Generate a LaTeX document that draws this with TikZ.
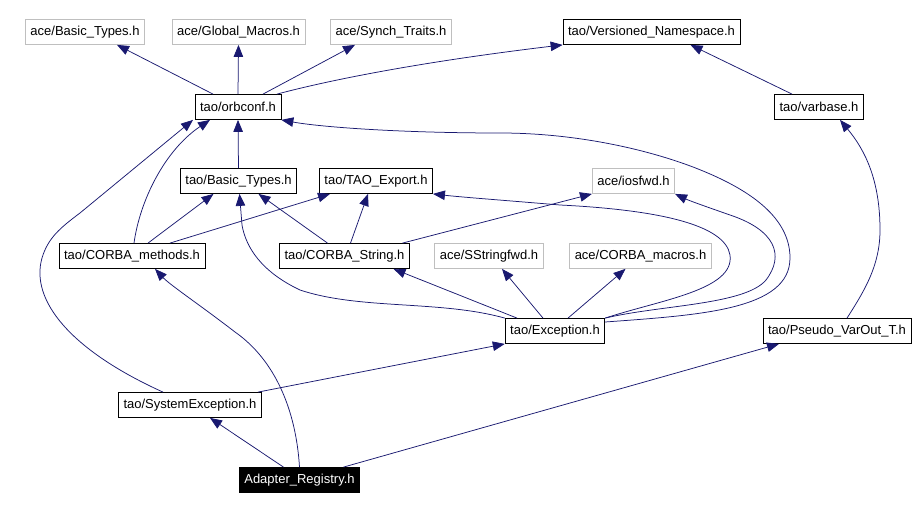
\documentclass[tikz,border=0pt]{standalone}
\usepackage{fontspec}
\setmainfont{Liberation Sans}
\usetikzlibrary{arrows.meta,calc}
\definecolor{depblue}{RGB}{25,25,112}
\definecolor{extgray}{RGB}{191,191,191}
\tikzset{
    hfile/.style={draw=black, line width=0.8pt, rectangle, minimum height=25pt, inner xsep=5pt, inner ysep=2pt, font=\fontsize{13}{15}\selectfont},
    extfile/.style={hfile, draw=extgray},
    mainfile/.style={hfile, fill=black, text=white},
    dep/.style={draw=depblue, line width=0.75pt, -{Triangle[length=12pt,width=9.5pt]}},
}
\begin{document}
\begin{tikzpicture}[x=1pt, y=-1pt]
        \useasboundingbox (0,0) rectangle (923,510);
        \node[extfile] (aceBasic) at (85,32) {ace/Basic\_Types.h};
        \node[extfile] (aceGlobal) at (238.5,32) {ace/Global\_Macros.h};
        \node[extfile] (aceSynch) at (391,32) {ace/Synch\_Traits.h};
        \node[hfile] (taoVersioned) at (651.5,32) {tao/Versioned\_Namespace.h};
        \node[hfile] (orbconf) at (238,107) {tao/orbconf.h};
        \node[hfile] (varbase) at (819,107) {tao/varbase.h};
        \node[hfile] (taoBasic) at (238.5,181) {tao/Basic\_Types.h};
        \node[hfile] (taoExport) at (376,181) {tao/TAO\_Export.h};
        \node[extfile] (iosfwd) at (633.5,181) {ace/iosfwd.h};
        \node[hfile] (corbaMethods) at (132,256) {tao/CORBA\_methods.h};
        \node[hfile] (corbaString) at (344.5,256) {tao/CORBA\_String.h};
        \node[extfile] (sstringfwd) at (489,256) {ace/SStringfwd.h};
        \node[extfile] (corbaMacros) at (640.5,256) {ace/CORBA\_macros.h};
        \node[hfile] (exception) at (555,331) {tao/Exception.h};
        \node[hfile] (pseudoVarOut) at (837,331) {tao/Pseudo\_VarOut\_T.h};
        \node[hfile] (sysException) at (190,405) {tao/SystemException.h};
        \node[mainfile] (adapter) at (299.5,480) {Adapter\_Registry.h};

        \draw[dep] ($(orbconf.north)+(-25,0)$) -- ($(aceBasic.south)+(32,0)$);
        \draw[dep] (orbconf.north) -- (aceGlobal.south);
        \draw[dep] ($(orbconf.north)+(25,0)$) -- ($(aceSynch.south)+(-36,0)$);
        \draw[dep] ($(orbconf.north)+(39,0)$) .. controls (330,80) and (420,62) .. (taoVersioned.south west);
        \draw[dep] ($(varbase.north)+(-27,0)$) -- ($(taoVersioned.south)+(39,0)$);
        \draw[dep] (taoBasic.north) -- (orbconf.south);
        \draw[dep] ($(corbaMethods.north)+(2,0)$) .. controls (140,200) and (165,150) .. ($(orbconf.south)+(-28,0)$);
        \draw[dep] ($(sysException.north)+(-27,0)$) .. controls (70,350) and (30,300) .. (42,258)
            .. controls (48,238) and (60,228) .. (80,213) -- ($(orbconf.south)+(-45,0)$);
        \draw[dep] ($(exception.east)+(0,-9)$) .. controls (700,315) and (790,310) .. (790,258)
            .. controls (790,215) and (745,187) .. (693,167) .. controls (640,147) and (570,133) .. (500,133)
            .. controls (400,133) and (320,127) .. (orbconf.south east);
        \draw[dep] ($(corbaMethods.north)+(16,0)$) -- ($(taoBasic.south)+(-25,0)$);
        \draw[dep] ($(corbaMethods.north)+(38,0)$) -- ($(taoExport.south)+(-46,0)$);
        \draw[dep] ($(corbaString.north)+(-17,0)$) -- ($(taoBasic.south)+(20,0)$);
        \draw[dep] ($(corbaString.north)+(6,0)$) -- ($(taoExport.south)+(-8,0)$);
        \draw[dep] ($(corbaString.north)+(58,0)$) -- (iosfwd.south west);
        \draw[dep] (exception.north west) .. controls (440,300) and (360,310) .. (300,290)
            .. controls (262,272) and (246,248) .. (242,225) -- ($(taoBasic.south)+(1,0)$);
        \draw[dep] ($(exception.north)+(-38,0)$) -- ($(corbaString.south)+(49,0)$);
        \draw[dep] ($(exception.north)+(-12,0)$) -- ($(sstringfwd.south)+(13,0)$);
        \draw[dep] ($(exception.north)+(13,0)$) -- ($(corbaMacros.south)+(-15,0)$);
        \draw[dep] (exception.north east) .. controls (660,300) and (735,290) .. (730,255)
            .. controls (725,225) and (660,210) .. (560,205) .. controls (500,200) and (460,197) .. (taoExport.south east);
        \draw[dep] (exception.north east) .. controls (660,305) and (745,305) .. (766,280)
            .. controls (785,255) and (775,230) .. (730,215) .. controls (710,208) and (690,201) .. (iosfwd.south east);
        \draw[dep] ($(sysException.north)+(68,0)$) -- (exception.south west);
        \draw[dep] ($(adapter.north)+(-16,0)$) -- ($(sysException.south)+(20,0)$);
        \draw[dep] (adapter.north) .. controls (296,410) and (275,360) .. (235,332)
            .. controls (200,305) and (170,285) .. ($(corbaMethods.south)+(23,0)$);
        \draw[dep] ($(adapter.north)+(44,0)$) -- ($(pseudoVarOut.south)+(-58,0)$);
        \draw[dep] ($(pseudoVarOut.north)+(10,0)$) .. controls (865,290) and (880,265) .. (880,230)
            .. controls (880,180) and (865,150) .. ($(varbase.south)+(21,0)$);
\end{tikzpicture}
\end{document}
